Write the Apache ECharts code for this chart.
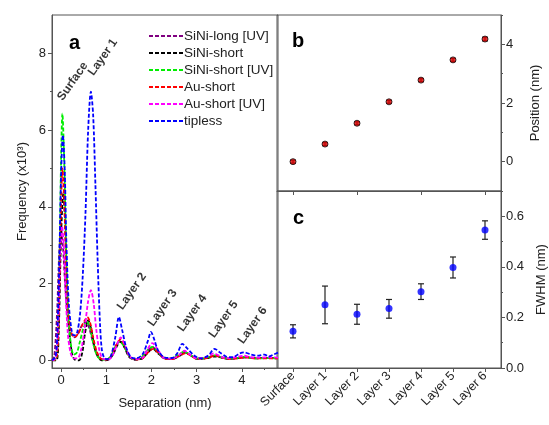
<!DOCTYPE html>
<html>
<head>
<meta charset="utf-8">
<script src="https://cdn.jsdelivr.net/npm/echarts@6/dist/echarts.min.js"></script>
<style>
    html, body { margin: 0; padding: 0; background: #fff; }
    #chart { width: 549px; height: 425px; }
</style>
</head>
<body>
<div id="chart"></div>
<script>
// panel a: frequency histograms, [separation nm, frequency x10^3]
const siniLongUV = [[-0.2,0],[-0.15,0.1],[-0.09,1.2],[-0.04,2.8],[0,3.4],[0.04,3.0],[0.09,2.0],[0.15,1.1],[0.22,0.7],[0.3,0.6],[0.38,0.7],[0.46,0.9],[0.55,1.0],[0.62,0.85],[0.7,0.5],[0.78,0.2],[0.88,0.04],[1.0,0.02],[1.1,0.1],[1.2,0.35],[1.3,0.5],[1.4,0.35],[1.5,0.1],[1.62,0.02],[1.78,0.05],[1.92,0.25],[2.02,0.35],[2.13,0.22],[2.28,0.05],[2.45,0.03],[2.6,0.12],[2.73,0.22],[2.86,0.14],[3.0,0.05],[3.2,0.06],[3.4,0.12],[3.55,0.08],[3.7,0.05],[3.9,0.06],[4.1,0.08],[4.3,0.06],[4.5,0.06],[4.8,0.06]];
const siniShort = [[-0.2,0],[-0.1,0],[-0.05,0.8],[0,3.2],[0.05,4.35],[0.09,3.6],[0.13,2.0],[0.18,0.8],[0.24,0.2],[0.3,0.02],[0.4,0.0],[0.47,0.2],[0.53,0.7],[0.6,1.05],[0.67,0.8],[0.74,0.35],[0.82,0.08],[0.9,0.0],[1.05,0.02],[1.15,0.15],[1.25,0.4],[1.32,0.48],[1.42,0.3],[1.52,0.08],[1.65,0.02],[1.8,0.05],[1.92,0.2],[2.03,0.3],[2.15,0.18],[2.3,0.05],[2.45,0.03],[2.6,0.1],[2.75,0.2],[2.88,0.12],[3.0,0.04],[3.2,0.05],[3.4,0.1],[3.55,0.07],[3.7,0.04],[3.9,0.05],[4.1,0.08],[4.3,0.05],[4.5,0.06],[4.8,0.05]];
const siniShortUV = [[-0.2,0],[-0.1,0.05],[-0.05,1.5],[0,5.2],[0.03,6.43],[0.07,5.2],[0.11,3.0],[0.16,1.2],[0.22,0.4],[0.28,0.15],[0.35,0.2],[0.42,0.5],[0.5,0.85],[0.58,1.0],[0.65,0.8],[0.72,0.4],[0.8,0.12],[0.9,0.02],[1.0,0.02],[1.1,0.1],[1.2,0.35],[1.3,0.5],[1.4,0.35],[1.5,0.12],[1.6,0.03],[1.75,0.05],[1.9,0.25],[2.02,0.35],[2.15,0.2],[2.3,0.06],[2.45,0.05],[2.6,0.15],[2.72,0.22],[2.85,0.15],[3.0,0.05],[3.2,0.06],[3.4,0.13],[3.55,0.08],[3.7,0.05],[3.9,0.06],[4.05,0.09],[4.2,0.06],[4.4,0.05],[4.6,0.06],[4.8,0.05]];
const auShort = [[-0.2,0],[-0.1,0.05],[-0.05,1.2],[0,4.0],[0.03,5.0],[0.07,4.2],[0.11,2.6],[0.16,1.3],[0.22,0.75],[0.3,0.6],[0.38,0.7],[0.46,0.9],[0.53,1.05],[0.58,1.13],[0.64,1.0],[0.71,0.6],[0.8,0.2],[0.9,0.03],[1.0,0.02],[1.1,0.1],[1.2,0.35],[1.32,0.55],[1.42,0.35],[1.52,0.1],[1.65,0.02],[1.8,0.05],[1.92,0.2],[2.04,0.3],[2.15,0.2],[2.3,0.05],[2.45,0.03],[2.6,0.1],[2.75,0.18],[2.88,0.12],[3.0,0.04],[3.2,0.05],[3.42,0.12],[3.55,0.08],[3.7,0.04],[3.9,0.05],[4.1,0.08],[4.3,0.05],[4.5,0.05],[4.8,0.05]];
const auShortUV = [[-0.2,0],[-0.12,0.05],[-0.06,1.0],[-0.02,2.8],[0.02,3.5],[0.06,3.0],[0.1,1.8],[0.15,0.7],[0.21,0.2],[0.28,0.05],[0.36,0.05],[0.45,0.3],[0.53,0.9],[0.6,1.55],[0.66,1.83],[0.72,1.5],[0.78,0.8],[0.85,0.25],[0.93,0.04],[1.05,0.02],[1.15,0.15],[1.25,0.45],[1.32,0.6],[1.42,0.38],[1.52,0.1],[1.65,0.03],[1.8,0.06],[1.92,0.3],[2.02,0.45],[2.14,0.28],[2.28,0.06],[2.45,0.04],[2.6,0.12],[2.73,0.25],[2.85,0.15],[3.0,0.05],[3.2,0.08],[3.38,0.18],[3.5,0.12],[3.65,0.05],[3.85,0.08],[4.05,0.12],[4.2,0.08],[4.4,0.07],[4.6,0.08],[4.8,0.07]];
const tipless = [[-0.2,0],[-0.12,0.1],[-0.08,0.8],[-0.04,2.5],[0,4.8],[0.04,5.87],[0.08,5.0],[0.12,3.0],[0.17,1.5],[0.23,0.8],[0.28,0.65],[0.35,0.7],[0.42,1.2],[0.48,2.2],[0.54,3.8],[0.6,6.0],[0.66,7.0],[0.71,6.4],[0.76,4.6],[0.81,2.6],[0.86,1.0],[0.9,0.3],[0.95,0.08],[1.02,0.03],[1.1,0.1],[1.2,0.6],[1.28,1.13],[1.35,0.8],[1.45,0.3],[1.55,0.08],[1.65,0.05],[1.8,0.15],[1.92,0.5],[1.99,0.74],[2.06,0.55],[2.15,0.25],[2.3,0.07],[2.45,0.06],[2.58,0.2],[2.68,0.43],[2.8,0.3],[2.95,0.12],[3.1,0.05],[3.25,0.12],[3.4,0.3],[3.5,0.22],[3.65,0.1],[3.8,0.08],[3.95,0.18],[4.05,0.21],[4.2,0.15],[4.35,0.12],[4.5,0.15],[4.6,0.1],[4.7,0.15],[4.8,0.2]];

const seriesNames = ['SiNi-long [UV]', 'SiNi-short', 'SiNi-short [UV]', 'Au-short', 'Au-short [UV]', 'tipless'];
const seriesColors = ['#800080', '#000000', '#00ee00', '#ff0000', '#ff00ff', '#0000ff'];
const seriesData = [siniLongUV, siniShort, siniShortUV, auShort, auShortUV, tipless];

// peak labels in panel a: [x, y, text]
const peakLabels = [[-0.02, 6.8, 'Surface'], [0.66, 7.45, 'Layer 1'], [1.3, 1.35, 'Layer 2'], [1.98, 0.92, 'Layer 3'], [2.64, 0.78, 'Layer 4'], [3.33, 0.62, 'Layer 5'], [3.97, 0.46, 'Layer 6']];

// panels b and c
const layerNames = ['Surface', 'Layer 1', 'Layer 2', 'Layer 3', 'Layer 4', 'Layer 5', 'Layer 6'];
const positionNm = [0, 0.6, 1.31, 2.04, 2.78, 3.47, 4.18];
const positionErr = [0.05, 0.05, 0.05, 0.05, 0.05, 0.05, 0.06];
const fwhmNm = [0.145, 0.25, 0.213, 0.235, 0.302, 0.397, 0.546];
const fwhmLow = [0.119, 0.175, 0.173, 0.197, 0.271, 0.356, 0.509];
const fwhmHigh = [0.171, 0.324, 0.252, 0.271, 0.333, 0.439, 0.582];

const xTicks = [0, 1, 2, 3, 4];
const xMinorTicks = [0.5, 1.5, 2.5, 3.5, 4.5];
const yTicks = [0, 2, 4, 6, 8];
const yMinorTicks = [1, 3, 5, 7];
const posTicks = [0, 2, 4];
const posMinorTicks = [-1, 1, 3, 5];
const fwhmTicks = [0, 0.2, 0.4, 0.6];
const fwhmMinorTicks = [0.1, 0.3, 0.5];

const FONT = 'Liberation Sans';
const AXIS_COLOR = '#555';
const TEXT_COLOR = '#222';

const chart = echarts.init(document.getElementById('chart'));

const errorBarRender = (params, api) => {
    const x = api.value(0);
    const lo = api.coord([x, api.value(2)]);
    const hi = api.coord([x, api.value(3)]);
    const w = 3;
    const style = { stroke: '#222', lineWidth: 1.2 };
    return {
        type: 'group',
        children: [
            { type: 'line', shape: { x1: lo[0], y1: lo[1], x2: hi[0], y2: hi[1] }, style },
            { type: 'line', shape: { x1: lo[0] - w, y1: lo[1], x2: lo[0] + w, y2: lo[1] }, style },
            { type: 'line', shape: { x1: hi[0] - w, y1: hi[1], x2: hi[0] + w, y2: hi[1] }, style }
        ]
    };
};

const axisLine = { show: true, onZero: false, lineStyle: { color: AXIS_COLOR, width: 1 } };
const noLine = { show: false, onZero: false };
const labelStyle = { fontFamily: FONT, fontSize: 13, color: TEXT_COLOR };

const curveSeries = seriesNames.map((name, i) => ({
    name,
    type: 'line',
    xAxisIndex: 0,
    yAxisIndex: 0,
    data: seriesData[i],
    smooth: 0.3,
    symbol: 'none',
    clip: true,
    lineStyle: { color: seriesColors[i], width: 1.8, type: [4, 2] },
    itemStyle: { color: seriesColors[i] },
    z: 2 + i
}));

const option = {
    animation: false,
    backgroundColor: '#fff',
    textStyle: { fontFamily: FONT },
    title: [
        { text: 'a', left: 64, top: 28, textStyle: { fontFamily: FONT, fontSize: 20, fontWeight: 'bold', color: '#000' } },
        { text: 'b', left: 287, top: 26, textStyle: { fontFamily: FONT, fontSize: 20, fontWeight: 'bold', color: '#000' } },
        { text: 'c', left: 288, top: 203, textStyle: { fontFamily: FONT, fontSize: 20, fontWeight: 'bold', color: '#000' } }
    ],
    legend: {
        data: seriesNames,
        orient: 'vertical',
        left: 143,
        top: 24,
        itemWidth: 34,
        itemHeight: 12,
        itemGap: 3,
        itemStyle: { opacity: 0 },
        textStyle: { fontFamily: FONT, fontSize: 13.5, color: TEXT_COLOR, padding: [0, 0, 0, -4] }
    },
    grid: [
        { left: 52, top: 15, width: 226, height: 353, show: true, borderColor: AXIS_COLOR, borderWidth: 1 },
        { left: 277, top: 15, width: 224, height: 176, show: true, borderColor: AXIS_COLOR, borderWidth: 1 },
        { left: 277, top: 191, width: 224, height: 177, show: true, borderColor: AXIS_COLOR, borderWidth: 1 }
    ],
    xAxis: [
        {
            gridIndex: 0, type: 'value', min: -0.2, max: 4.8, position: 'bottom',
            name: 'Separation (nm)', nameLocation: 'middle', nameGap: 29,
            nameTextStyle: { fontFamily: FONT, fontSize: 13, color: TEXT_COLOR },
            axisLine,
            axisTick: { show: true, length: 4, customValues: xTicks, lineStyle: { color: AXIS_COLOR } },
            axisLabel: { ...labelStyle, customValues: xTicks, margin: 6 },
            splitLine: { show: false }
        },
        {
            gridIndex: 0, type: 'value', min: -0.2, max: 4.8, position: 'bottom',
            axisLine: noLine,
            axisTick: { show: true, length: 2, customValues: xMinorTicks, lineStyle: { color: AXIS_COLOR } },
            axisLabel: { show: false },
            splitLine: { show: false }
        },
        {
            gridIndex: 1, type: 'category', data: layerNames, position: 'bottom',
            axisLine,
            axisTick: { show: true, alignWithLabel: true, length: 4, lineStyle: { color: AXIS_COLOR } },
            axisLabel: { show: false },
            splitLine: { show: false }
        },
        {
            gridIndex: 2, type: 'category', data: layerNames, position: 'bottom',
            axisLine,
            axisTick: { show: true, alignWithLabel: true, length: 4, lineStyle: { color: AXIS_COLOR } },
            axisLabel: { fontFamily: FONT, fontSize: 12.5, color: TEXT_COLOR, rotate: 45, interval: 0, margin: 6 },
            splitLine: { show: false }
        }
    ],
    yAxis: [
        {
            gridIndex: 0, type: 'value', min: -0.2, max: 9, position: 'left',
            name: 'Frequency (x10³)', nameLocation: 'middle', nameGap: 23, nameRotate: 90,
            nameTextStyle: { fontFamily: FONT, fontSize: 13, color: TEXT_COLOR },
            axisLine,
            axisTick: { show: true, length: 4, customValues: yTicks, lineStyle: { color: AXIS_COLOR } },
            axisLabel: { ...labelStyle, customValues: yTicks, margin: 6 },
            splitLine: { show: false }
        },
        {
            gridIndex: 0, type: 'value', min: -0.2, max: 9, position: 'left',
            axisLine: noLine,
            axisTick: { show: true, length: 2, customValues: yMinorTicks, lineStyle: { color: AXIS_COLOR } },
            axisLabel: { show: false },
            splitLine: { show: false }
        },
        {
            gridIndex: 1, type: 'value', min: -1, max: 5, position: 'right',
            name: 'Position (nm)', nameLocation: 'middle', nameGap: 28, nameRotate: 90,
            nameTextStyle: { fontFamily: FONT, fontSize: 13, color: TEXT_COLOR },
            axisLine,
            axisTick: { show: true, length: 4, customValues: posTicks, lineStyle: { color: AXIS_COLOR } },
            axisLabel: { ...labelStyle, customValues: posTicks, margin: 5 },
            splitLine: { show: false }
        },
        {
            gridIndex: 2, type: 'value', min: 0, max: 0.7, position: 'right',
            name: 'FWHM (nm)', nameLocation: 'middle', nameGap: 34, nameRotate: 90,
            nameTextStyle: { fontFamily: FONT, fontSize: 13, color: TEXT_COLOR },
            axisLine,
            axisTick: { show: true, length: 4, customValues: fwhmTicks, lineStyle: { color: AXIS_COLOR } },
            axisLabel: { ...labelStyle, customValues: fwhmTicks, margin: 5, formatter: v => v.toFixed(1) },
            splitLine: { show: false }
        },
        {
            gridIndex: 1, type: 'value', min: -1, max: 5, position: 'right',
            axisLine: noLine,
            axisTick: { show: true, length: 2, customValues: posMinorTicks, lineStyle: { color: AXIS_COLOR } },
            axisLabel: { show: false },
            splitLine: { show: false }
        },
        {
            gridIndex: 2, type: 'value', min: 0, max: 0.7, position: 'right',
            axisLine: noLine,
            axisTick: { show: true, length: 2, customValues: fwhmMinorTicks, lineStyle: { color: AXIS_COLOR } },
            axisLabel: { show: false },
            splitLine: { show: false }
        }
    ],
    series: [
        ...curveSeries,
        {
            name: 'peakLabels',
            type: 'scatter',
            xAxisIndex: 0,
            yAxisIndex: 0,
            symbolSize: 0,
            data: peakLabels,
            silent: true,
            z: 20,
            label: {
                show: true,
                position: 'inside',
                align: 'left',
                verticalAlign: 'middle',
                rotate: 55,
                formatter: p => p.value[2],
                fontFamily: FONT,
                fontSize: 12,
                fontWeight: 'bold',
                color: '#000'
            }
        },
        {
            name: 'positionErr',
            type: 'custom',
            xAxisIndex: 2,
            yAxisIndex: 2,
            renderItem: errorBarRender,
            data: positionNm.map((v, i) => [i, v, v - positionErr[i], v + positionErr[i]]),
            z: 3
        },
        {
            name: 'position',
            type: 'scatter',
            xAxisIndex: 2,
            yAxisIndex: 2,
            symbolSize: 6,
            data: positionNm.map((v, i) => [i, v]),
            itemStyle: { color: '#e00000', borderColor: '#111', borderWidth: 1 },
            z: 4
        },
        {
            name: 'fwhmErr',
            type: 'custom',
            xAxisIndex: 3,
            yAxisIndex: 3,
            renderItem: errorBarRender,
            data: fwhmNm.map((v, i) => [i, v, fwhmLow[i], fwhmHigh[i]]),
            z: 3
        },
        {
            name: 'fwhm',
            type: 'scatter',
            xAxisIndex: 3,
            yAxisIndex: 3,
            symbolSize: 7,
            data: fwhmNm.map((v, i) => [i, v]),
            itemStyle: { color: '#0000ff' },
            z: 4
        }
    ]
};

chart.setOption(option);
</script>
</body>
</html>
